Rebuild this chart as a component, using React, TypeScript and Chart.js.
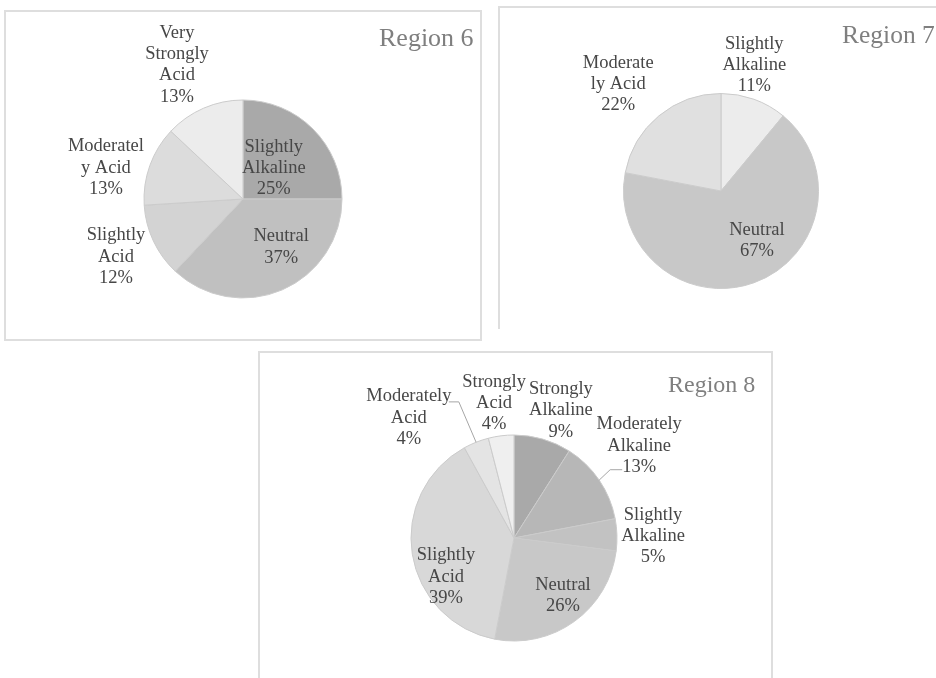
import React, { useEffect, useRef } from "react";
import { Chart, registerables } from "chart.js";

Chart.register(...registerables);

// ---------------- DATA ----------------
const region6Categories = ["Slightly Alkaline", "Neutral", "Slightly Acid", "Moderately Acid", "Very Strongly Acid"];
const region6Values = [25, 37, 12, 13, 13];

const region7Categories = ["Slightly Alkaline", "Neutral", "Moderately Acid"];
const region7Values = [11, 67, 22];

const region8Categories = [
  "Strongly Alkaline",
  "Moderately Alkaline",
  "Slightly Alkaline",
  "Neutral",
  "Slightly Acid",
  "Moderately Acid",
  "Strongly Acid",
];
const region8Values = [9, 13, 5, 26, 39, 4, 4];

const titles = ["Region 6", "Region 7", "Region 8"];

// ---------------- STYLE / LAYOUT ----------------
const region6Colors = ["#a9a9a9", "#c0c0c0", "#d3d3d3", "#dcdcdc", "#ececec"];
const region7Colors = ["#ececec", "#c8c8c8", "#e0e0e0"];
const region8Colors = ["#a9a9a9", "#b7b7b7", "#c2c2c2", "#c8c8c8", "#d8d8d8", "#e4e4e4", "#efefef"];

// how each category label wraps (percent line is appended from the data)
const region6Lines = [["Slightly", "Alkaline"], ["Neutral"], ["Slightly", "Acid"], ["Moderatel", "y Acid"], ["Very", "Strongly", "Acid"]];
const region7Lines = [["Slightly", "Alkaline"], ["Neutral"], ["Moderate", "ly Acid"]];
const region8Lines = [
  ["Strongly", "Alkaline"],
  ["Moderately", "Alkaline"],
  ["Slightly", "Alkaline"],
  ["Neutral"],
  ["Slightly", "Acid"],
  ["Moderately", "Acid"],
  ["Strongly", "Acid"],
];

// [angle offset from slice middle (deg), distance in radii]
const region6Place = [[0, 0.44], [-15, 0.62], [0.7, 1.41], [-7, 1.42], [-2.8, 1.51]];
const region7Place = [[-5, 1.335], [-16, 0.63], [-4.3, 1.52]];
const region8Place = [[4, 1.32], [-2.2, 1.51], [1, 1.35], [-4.2, 0.737], [-20.8, 0.76], [-19.6, 1.55], [-1.2, 1.325]];

type Leader = { ex: number; ey: number; elbow: number } | null;
const region6Leaders: Leader[] = [null, null, null, null, null];
const region7Leaders: Leader[] = [null, null, null];
const region8Leaders: Leader[] = [null, { ex: -17, ey: 24, elbow: -12 }, null, null, null, { ex: 40, ey: -16, elbow: 10 }, null];

const FONT = '"Liberation Serif", "Times New Roman", serif';

interface BoxProps {
  left: number;
  top: number;
  width: number;
  height: number;
  borders: { t: boolean; r: boolean; b: boolean; l: boolean };
  cx: number;
  cy: number;
  r: number;
  categories: string[];
  values: number[];
  colors: string[];
  lines: string[][];
  place: number[][];
  leaders: Leader[];
  title: string;
  titleX: number;
  titleY: number;
  titleSize: number;
}

function PieBox(p: BoxProps) {
  const ref = useRef<HTMLCanvasElement | null>(null);

  useEffect(() => {
    if (!ref.current) return;
    const labelPlugin = {
      id: "labels" + p.title.replace(" ", ""),
      afterDatasetsDraw(chart: any) {
        const ctx = chart.ctx as CanvasRenderingContext2D;
        const meta = chart.getDatasetMeta(0);
        ctx.save();
        ctx.font = `18.5px ${FONT}`;
        ctx.fillStyle = "#474747";
        ctx.textAlign = "center";
        ctx.textBaseline = "middle";
        const lh = 21.3;
        meta.data.forEach((arc: any, i: number) => {
          const { x, y, startAngle, endAngle, outerRadius } = arc.getProps(
            ["x", "y", "startAngle", "endAngle", "outerRadius"],
            true
          );
          const mid = (startAngle + endAngle) / 2;
          const [dA, k] = p.place[i];
          const a = mid + (dA * Math.PI) / 180;
          const lx = x + Math.cos(a) * outerRadius * k;
          const ly = y + Math.sin(a) * outerRadius * k;
          const txt = [...p.lines[i], `${p.values[i]}%`];
          const y0 = ly - ((txt.length - 1) * lh) / 2;
          txt.forEach((t, j) => ctx.fillText(t, lx, y0 + j * lh));
          const ld = p.leaders[i];
          if (ld) {
            const ax = x + Math.cos(mid) * outerRadius;
            const ay = y + Math.sin(mid) * outerRadius;
            const exx = lx + ld.ex;
            const eyy = ly + ld.ey;
            ctx.beginPath();
            ctx.strokeStyle = "#a6a6a6";
            ctx.lineWidth = 1;
            ctx.moveTo(ax, ay);
            ctx.lineTo(exx + ld.elbow, eyy);
            ctx.lineTo(exx, eyy);
            ctx.stroke();
          }
        });
        ctx.font = `${p.titleSize}px ${FONT}`;
        ctx.fillStyle = "#7f7f7f";
        ctx.textAlign = "left";
        ctx.fillText(p.title, p.titleX, p.titleY);
        ctx.restore();
      },
    };

    const chart = new Chart(ref.current, {
      type: "pie",
      data: {
        labels: p.categories,
        datasets: [
          {
            data: p.values,
            backgroundColor: p.colors,
            borderColor: "#cbcbcb",
            borderWidth: 1,
          },
        ],
      },
      options: {
        responsive: false,
        animation: false,
        events: [],
        radius: p.r,
        layout: {
          padding: {
            left: p.cx - p.r,
            right: p.width - p.cx - p.r,
            top: p.cy - p.r,
            bottom: p.height - p.cy - p.r,
          },
        },
        plugins: {
          legend: { display: false },
          tooltip: { enabled: false },
          title: { display: false },
        },
      } as any,
      plugins: [labelPlugin],
    });
    return () => chart.destroy();
  }, []);

  const bc = "2px solid #dedede";
  return (
    <>
      <div
        style={{
          position: "absolute",
          left: p.left,
          top: p.top,
          width: p.width,
          height: p.height,
          boxSizing: "border-box",
          borderTop: p.borders.t ? bc : "none",
          borderRight: p.borders.r ? bc : "none",
          borderBottom: p.borders.b ? bc : "none",
          borderLeft: p.borders.l ? bc : "none",
        }}
      />
      <canvas
        ref={ref}
        width={p.width}
        height={p.height}
        style={{ position: "absolute", left: p.left, top: p.top, width: p.width, height: p.height, display: "block" }}
      />
    </>
  );
}

export default function App() {
  return (
    <div
      style={{
        position: "absolute",
        left: 0,
        top: 0,
        width: 936,
        height: 678,
        overflow: "hidden",
        background: "#ffffff",
      }}
    >
      <PieBox
        left={4}
        top={10}
        width={478}
        height={331}
        borders={{ t: true, r: true, b: true, l: true }}
        cx={239}
        cy={189}
        r={99}
        categories={region6Categories}
        values={region6Values}
        colors={region6Colors}
        lines={region6Lines}
        place={region6Place}
        leaders={region6Leaders}
        title={titles[0]}
        titleX={375}
        titleY={29}
        titleSize={26}
      />
      <PieBox
        left={498}
        top={6}
        width={460}
        height={323}
        borders={{ t: true, r: false, b: false, l: true }}
        cx={223}
        cy={185}
        r={97.5}
        categories={region7Categories}
        values={region7Values}
        colors={region7Colors}
        lines={region7Lines}
        place={region7Place}
        leaders={region7Leaders}
        title={titles[1]}
        titleX={344}
        titleY={30}
        titleSize={25.5}
      />
      <PieBox
        left={258}
        top={351}
        width={515}
        height={340}
        borders={{ t: true, r: true, b: false, l: true }}
        cx={256}
        cy={187}
        r={103}
        categories={region8Categories}
        values={region8Values}
        colors={region8Colors}
        lines={region8Lines}
        place={region8Place}
        leaders={region8Leaders}
        title={titles[2]}
        titleX={410}
        titleY={35}
        titleSize={24}
      />
    </div>
  );
}
